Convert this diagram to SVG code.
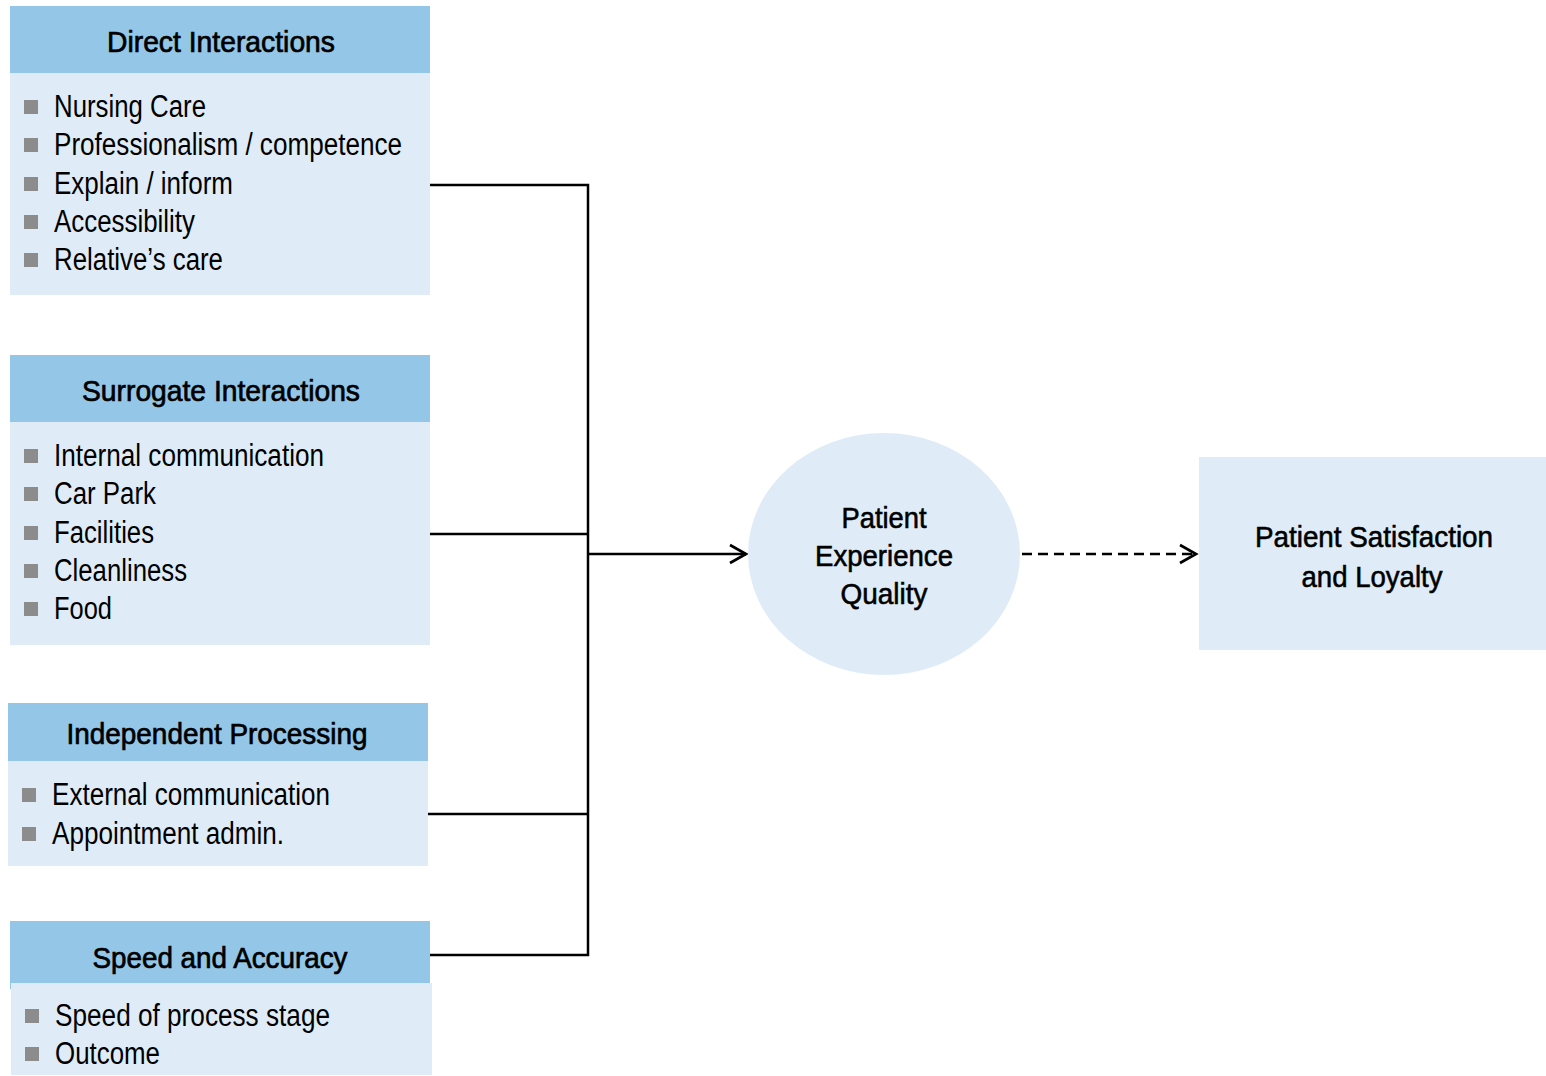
<svg xmlns="http://www.w3.org/2000/svg" width="1546" height="1076" viewBox="0 0 1546 1076">
<style>
text{font-family:"Liberation Sans",Arial,sans-serif;fill:#000}
.hd{fill:#93C6E7}
.bd{fill:#DFECF7}
.ht{font-size:30px;text-anchor:middle;stroke:#000;stroke-width:0.7}
.it{font-size:31px}
.bl{fill:#8C8C8C}
.ct{font-size:30px;text-anchor:middle;stroke:#000;stroke-width:0.6}
.ln{fill:none;stroke:#000;stroke-width:2.5}
</style>
<defs>
<marker id="ah" markerWidth="24" markerHeight="24" refX="19" refY="12" orient="auto" markerUnits="userSpaceOnUse">
<path d="M3,3 L19,12 L3,21" fill="none" stroke="#000" stroke-width="2.7"/>
</marker>
</defs>
<g id="connectors">
<path class="ln" d="M430,185 H588 V955 H430"/>
<path class="ln" d="M430,534 H588"/>
<path class="ln" d="M428,814 H588"/>
<path class="ln" d="M588,554 H746" marker-end="url(#ah)"/>
<path class="ln" d="M1022,554 H1196" stroke-dasharray="10,6" marker-end="url(#ah)"/>
</g>
<g id="direct-interactions">
<rect class="hd" x="10" y="6" width="420" height="67"/>
<rect class="bd" x="10" y="73" width="420" height="222"/>
<text class="ht" x="221" y="52" textLength="228" lengthAdjust="spacingAndGlyphs">Direct Interactions</text>
<rect class="bl" x="24" y="100" width="14" height="14"/>
<rect class="bl" x="24" y="138" width="14" height="14"/>
<rect class="bl" x="24" y="177" width="14" height="14"/>
<rect class="bl" x="24" y="215" width="14" height="14"/>
<rect class="bl" x="24" y="253" width="14" height="14"/>
<text class="it" x="54" y="117" textLength="152" lengthAdjust="spacingAndGlyphs">Nursing Care</text>
<text class="it" x="54" y="155" textLength="348" lengthAdjust="spacingAndGlyphs">Professionalism / competence</text>
<text class="it" x="54" y="194" textLength="179" lengthAdjust="spacingAndGlyphs">Explain / inform</text>
<text class="it" x="54" y="232" textLength="141" lengthAdjust="spacingAndGlyphs">Accessibility</text>
<text class="it" x="54" y="270" textLength="169" lengthAdjust="spacingAndGlyphs">Relative’s care</text>
</g>
<g id="surrogate-interactions">
<rect class="hd" x="10" y="355" width="420" height="67"/>
<rect class="bd" x="10" y="422" width="420" height="223"/>
<text class="ht" x="221" y="401" textLength="278" lengthAdjust="spacingAndGlyphs">Surrogate Interactions</text>
<rect class="bl" x="24" y="449" width="14" height="14"/>
<rect class="bl" x="24" y="487" width="14" height="14"/>
<rect class="bl" x="24" y="526" width="14" height="14"/>
<rect class="bl" x="24" y="564" width="14" height="14"/>
<rect class="bl" x="24" y="602" width="14" height="14"/>
<text class="it" x="54" y="466" textLength="270" lengthAdjust="spacingAndGlyphs">Internal communication</text>
<text class="it" x="54" y="504" textLength="102" lengthAdjust="spacingAndGlyphs">Car Park</text>
<text class="it" x="54" y="543" textLength="100" lengthAdjust="spacingAndGlyphs">Facilities</text>
<text class="it" x="54" y="581" textLength="133" lengthAdjust="spacingAndGlyphs">Cleanliness</text>
<text class="it" x="54" y="619" textLength="58" lengthAdjust="spacingAndGlyphs">Food</text>
</g>
<g id="independent-processing">
<rect class="hd" x="8" y="703" width="420" height="58"/>
<rect class="bd" x="8" y="761" width="420" height="105"/>
<text class="ht" x="217" y="744" textLength="301" lengthAdjust="spacingAndGlyphs">Independent Processing</text>
<rect class="bl" x="22" y="788" width="14" height="14"/>
<rect class="bl" x="22" y="827" width="14" height="14"/>
<text class="it" x="52" y="805" textLength="278" lengthAdjust="spacingAndGlyphs">External communication</text>
<text class="it" x="52" y="844" textLength="232" lengthAdjust="spacingAndGlyphs">Appointment admin.</text>
</g>
<g id="speed-accuracy">
<rect class="hd" x="10" y="921" width="420" height="68"/>
<rect class="bd" x="11" y="983" width="421" height="92"/>
<text class="ht" x="220" y="968" textLength="255" lengthAdjust="spacingAndGlyphs">Speed and Accuracy</text>
<rect class="bl" x="25" y="1009" width="14" height="14"/>
<rect class="bl" x="25" y="1047" width="14" height="14"/>
<text class="it" x="55" y="1026" textLength="275" lengthAdjust="spacingAndGlyphs">Speed of process stage</text>
<text class="it" x="55" y="1064" textLength="105" lengthAdjust="spacingAndGlyphs">Outcome</text>
</g>
<g id="patient-experience-quality">
<ellipse class="bd" cx="884" cy="554" rx="136" ry="121"/>
<text class="ct" x="884" y="528" textLength="85" lengthAdjust="spacingAndGlyphs">Patient</text>
<text class="ct" x="884" y="566" textLength="138" lengthAdjust="spacingAndGlyphs">Experience</text>
<text class="ct" x="884" y="604" textLength="87" lengthAdjust="spacingAndGlyphs">Quality</text>
</g>
<g id="patient-satisfaction">
<rect class="bd" x="1199" y="457" width="347" height="193"/>
<text class="ct" x="1374" y="547" textLength="238" lengthAdjust="spacingAndGlyphs">Patient Satisfaction</text>
<text class="ct" x="1372" y="587" textLength="141" lengthAdjust="spacingAndGlyphs">and Loyalty</text>
</g>
</svg>
